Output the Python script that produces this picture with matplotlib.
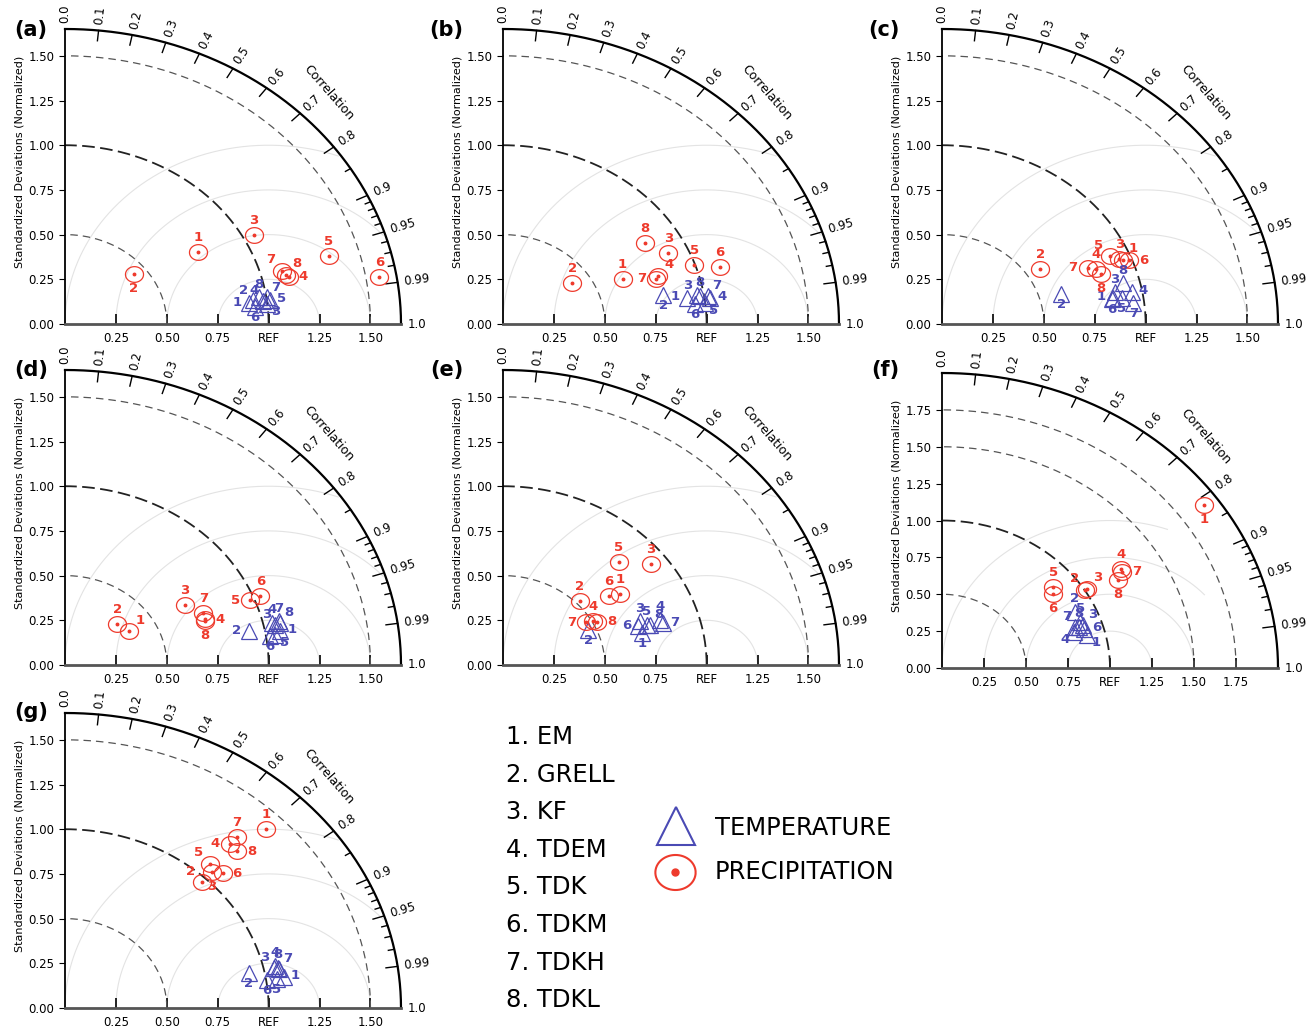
import numpy as np
import matplotlib.pyplot as plt
from matplotlib.path import Path

# modelos (numeracion de la leyenda)
models = ["EM", "GRELL", "KF", "TDEM", "TDK", "TDKM", "TDKH", "TDKL"]
panel_names = ["a", "b", "c", "d", "e", "f", "g"]

# desviacion estandar normalizada y correlacion, modelos 1..8
a_temp_std = [0.909, 0.932, 0.998, 0.981, 1.017, 0.938, 1.003, 0.962]
a_temp_cor = [0.992, 0.990, 0.994, 0.991, 0.991, 0.995, 0.989, 0.988]
a_prec_std = [0.767, 0.440, 1.052, 1.130, 1.350, 1.566, 1.107, 1.118]
a_prec_cor = [0.853, 0.768, 0.880, 0.972, 0.959, 0.986, 0.963, 0.969]

b_temp_std = [0.914, 0.803, 0.964, 1.027, 0.999, 0.950, 1.020, 0.981]
b_temp_cor = [0.987, 0.980, 0.986, 0.990, 0.993, 0.993, 0.988, 0.987]
b_prec_std = [0.638, 0.411, 0.904, 0.808, 0.996, 1.113, 0.792, 0.832]
b_prec_cor = [0.920, 0.830, 0.898, 0.943, 0.944, 0.958, 0.948, 0.838]

c_temp_std = [0.854, 0.610, 0.867, 0.948, 0.894, 0.845, 0.947, 0.918]
c_temp_cor = [0.985, 0.962, 0.979, 0.982, 0.987, 0.986, 0.992, 0.969]
c_prec_std = [0.957, 0.572, 0.944, 0.816, 0.907, 0.986, 0.781, 0.829]
c_prec_cor = [0.927, 0.843, 0.922, 0.926, 0.908, 0.932, 0.916, 0.941]

d_temp_std = [1.075, 0.921, 1.057, 1.044, 1.047, 1.021, 1.077, 1.084]
d_temp_cor = [0.984, 0.979, 0.977, 0.974, 0.987, 0.987, 0.974, 0.976]
d_prec_std = [0.368, 0.343, 0.677, 0.735, 0.979, 1.035, 0.740, 0.728]
d_prec_cor = [0.859, 0.749, 0.867, 0.937, 0.929, 0.927, 0.919, 0.941]

e_temp_std = [0.704, 0.462, 0.715, 0.812, 0.740, 0.698, 0.821, 0.756]
e_temp_cor = [0.967, 0.905, 0.940, 0.950, 0.953, 0.951, 0.959, 0.955]
e_prec_std = [0.701, 0.519, 0.920, 0.503, 0.810, 0.647, 0.472, 0.521]
e_prec_cor = [0.823, 0.726, 0.790, 0.875, 0.701, 0.804, 0.862, 0.887]

f_temp_std = [0.891, 0.876, 0.891, 0.821, 0.880, 0.888, 0.841, 0.860]
f_temp_cor = [0.968, 0.901, 0.945, 0.954, 0.934, 0.955, 0.943, 0.945]
f_prec_std = [1.910, 1.004, 1.016, 1.258, 0.860, 0.832, 1.252, 1.208]
f_prec_cor = [0.816, 0.849, 0.848, 0.845, 0.769, 0.795, 0.854, 0.868]

g_temp_std = [1.088, 0.923, 1.049, 1.059, 1.054, 1.004, 1.071, 1.068]
g_temp_cor = [0.987, 0.977, 0.977, 0.975, 0.988, 0.988, 0.979, 0.978]
g_prec_std = [1.406, 0.972, 1.050, 1.223, 1.074, 1.081, 1.276, 1.218]
g_prec_cor = [0.703, 0.691, 0.688, 0.661, 0.661, 0.716, 0.662, 0.694]

data = {
    "a": (a_temp_std, a_temp_cor, a_prec_std, a_prec_cor),
    "b": (b_temp_std, b_temp_cor, b_prec_std, b_prec_cor),
    "c": (c_temp_std, c_temp_cor, c_prec_std, c_prec_cor),
    "d": (d_temp_std, d_temp_cor, d_prec_std, d_prec_cor),
    "e": (e_temp_std, e_temp_cor, e_prec_std, e_prec_cor),
    "f": (f_temp_std, f_temp_cor, f_prec_std, f_prec_cor),
    "g": (g_temp_std, g_temp_cor, g_prec_std, g_prec_cor),
}

# donde va el numero de cada modelo (temp, prec)
label_dirs = {
    "a": ("l ul lr ul r b ur a", "a b a r a a ul ur"),
    "b": ("l b ul r lr b ur a", "a a a ur a a l a"),
    "c": ("l b a r b b b a", "ur a a a ul r l b"),
    "d": ("r l ul a lr b a ur", "ur a a r l a a b"),
    "e": ("b b a a a l r ur", "a a a a a a l r"),
    "f": ("lr a ur ll a r ul a", "b ul ur a a b r b"),
    "g": ("r b ul a b b ur a", "a ul b l ul r a r"),
}
dirs = {"a": (0, 1), "b": (0, -1), "l": (-1, 0), "r": (1, 0),
        "ul": (-0.75, 0.75), "ur": (0.75, 0.75), "ll": (-0.75, -0.75), "lr": (0.75, -0.75)}

RED = "#ee3a2c"
BLUE = "#4a4ab4"
W, H = 1314, 1029
BOX_W, BOX_H = 336, 295

# origen de cada diagrama en pixeles
origins = {"a": (65, 324), "b": (503, 324), "c": (942, 324),
           "d": (65, 665), "e": (503, 665), "f": (942, 668), "g": (65, 1008)}
panel_lbl = {"a": (31, 30), "b": (446, 30), "c": (884, 30), "d": (31, 370),
             "e": (447, 370), "f": (885, 370), "g": (31, 712)}

# marcador eliptico (la figura original esta estirada en horizontal)
tt = np.linspace(0, 2 * np.pi, 60)
ellipse = Path(np.column_stack([np.cos(tt), 0.87 * np.sin(tt)]))

fig = plt.figure(figsize=(W / 100, H / 100), dpi=100)


def taylor(ax, rmax, name):
    t_std, t_cor, p_std, p_cor = data[name]
    ratio = BOX_H / BOX_W
    ax.set_xlim(0, rmax)
    ax.set_ylim(0, rmax)
    th = np.linspace(0, np.pi / 2, 400)

    # arcos de desviacion estandar
    std_arcs = [0.5, 1.0, 1.5] + ([1.75] if rmax > 1.9 else [])
    for r in std_arcs:
        if r == 1.0:
            ax.plot(r * np.cos(th), r * np.sin(th), color="#222222", lw=1.3, ls=(0, (7, 3)))
        else:
            ax.plot(r * np.cos(th), r * np.sin(th), color="#555555", lw=0.9, ls=(0, (6, 4)))

    # arcos RMS centrados en REF
    ph = np.linspace(0, np.pi, 600)
    for r in [0.25, 0.5, 0.75, 1.0]:
        x = 1 + r * np.cos(ph)
        y = r * np.sin(ph)
        m = np.hypot(x, y) > 1.64
        x[m] = np.nan
        ax.plot(x, y, color="#e3e3e3", lw=0.8, zorder=1)

    # arco exterior y marcas de correlacion
    ax.plot(rmax * np.cos(th), rmax * np.sin(th), color="k", lw=1.6, clip_on=False)
    major = [0.1, 0.2, 0.3, 0.4, 0.5, 0.6, 0.7, 0.8, 0.9, 0.95, 0.99]
    minor = [0.85, 0.91, 0.92, 0.93, 0.94, 0.96, 0.97, 0.98]
    for c, L in [(c, 0.035) for c in major] + [(c, 0.018) for c in minor]:
        t = np.arccos(c)
        ax.plot([rmax * (1 - L) * np.cos(t), rmax * np.cos(t)],
                [rmax * (1 - L) * np.sin(t), rmax * np.sin(t)], color="k", lw=1.0, clip_on=False)
    for c in [0.0] + major + [1.0]:
        t = np.arccos(c)
        rot = np.degrees(np.arctan2(np.sin(t) * ratio, np.cos(t)))
        txt = "%.2f" % c if c in (0.95, 0.99) else "%.1f" % c
        ax.text(rmax * 1.02 * np.cos(t), rmax * 1.02 * np.sin(t), txt, rotation=rot,
                rotation_mode="anchor", ha="left", va="center", fontsize=8.5, clip_on=False)
    t45 = np.radians(45)
    rot = np.degrees(np.arctan2(np.sin(t45) * ratio, np.cos(t45))) - 90
    ax.text(rmax * 1.11 * np.cos(t45), rmax * 1.11 * np.sin(t45), "Correlation",
            rotation=rot, rotation_mode="anchor", ha="center", va="center", fontsize=9)

    # ejes
    for s in ["top", "right"]:
        ax.spines[s].set_visible(False)
    ax.spines["left"].set_color("k")
    ax.spines["left"].set_linewidth(1.3)
    ax.spines["bottom"].set_color("#555555")
    ax.spines["bottom"].set_linewidth(2.0)
    yt = np.arange(0, rmax - 0.01, 0.25)
    ax.set_yticks(yt)
    ax.set_yticklabels(["%.2f" % v for v in yt])
    xt = np.arange(0.25, rmax - 0.01, 0.25)
    ax.set_xticks(xt)
    ax.set_xticklabels(["REF" if abs(v - 1) < 1e-6 else "%.2f" % v for v in xt])
    ax.tick_params(axis="y", direction="out", length=4, labelsize=8.5)
    ax.tick_params(axis="x", direction="in", length=7, width=1.2, labelsize=8.5, pad=6)
    ax.set_ylabel("Standardized Deviations (Normalized)", fontsize=8)
    ax.yaxis.set_label_coords(-0.122, 0.55)

    # puntos
    t_std = np.array(t_std); t_cor = np.array(t_cor)
    p_std = np.array(p_std); p_cor = np.array(p_cor)
    tx, ty = t_std * t_cor, t_std * np.sqrt(1 - t_cor ** 2)
    px, py = p_std * p_cor, p_std * np.sqrt(1 - p_cor ** 2)
    ax.plot(tx, ty, ls="none", marker="^", ms=11, mfc="none", mec=BLUE, mew=0.9, zorder=4)
    ax.plot(px, py, ls="none", marker=ellipse, ms=13, mfc="none", mec=RED, mew=0.9, zorder=5)
    ax.plot(px, py, ls="none", marker="o", ms=1.8, color=RED, zorder=5)

    t_dirs, p_dirs = label_dirs[name]
    for i, d in enumerate(t_dirs.split()):
        dx, dy = dirs[d]
        ax.annotate(str(i + 1), (tx[i], ty[i]), xytext=(dx * 8.5, dy * 8.5 + 1),
                    textcoords="offset points", ha="center", va="center",
                    color=BLUE, fontsize=9.5, weight="bold", zorder=6)
    for i, d in enumerate(p_dirs.split()):
        dx, dy = dirs[d]
        ax.annotate(str(i + 1), (px[i], py[i]), xytext=(dx * 10.5, dy * 10.5),
                    textcoords="offset points", ha="center", va="center",
                    color=RED, fontsize=9.5, weight="bold", zorder=6)


for name in panel_names:
    ox, oy = origins[name]
    ax = fig.add_axes([ox / W, (H - oy) / H, BOX_W / W, BOX_H / H])
    ax.patch.set_alpha(0)
    taylor(ax, 2.0 if name == "f" else 1.65, name)
    lx, ly = panel_lbl[name]
    fig.text(lx / W, 1 - ly / H, "(%s)" % name, ha="center", va="center",
             fontsize=15, weight="bold")

# leyenda
lax = fig.add_axes([0, 0, 1, 1], zorder=-1)
lax.set_xlim(0, W)
lax.set_ylim(H, 0)
lax.axis("off")
for i, m in enumerate(models):
    lax.text(506, 737 + i * 37.6, "%d. %s" % (i + 1, m), ha="left", va="center", fontsize=17.5)
lax.plot([676], [826], ls="none", marker="^", ms=28, mfc="none", mec=BLUE, mew=1.5)
lax.plot([675], [872], ls="none", marker=ellipse, ms=29, mfc="none", mec=RED, mew=1.5)
lax.plot([675], [872], ls="none", marker="o", ms=5, color=RED)
lax.text(715, 828, "TEMPERATURE", ha="left", va="center", fontsize=17.5)
lax.text(715, 872, "PRECIPITATION", ha="left", va="center", fontsize=17.5)

fig.savefig("out.png", dpi=100)
